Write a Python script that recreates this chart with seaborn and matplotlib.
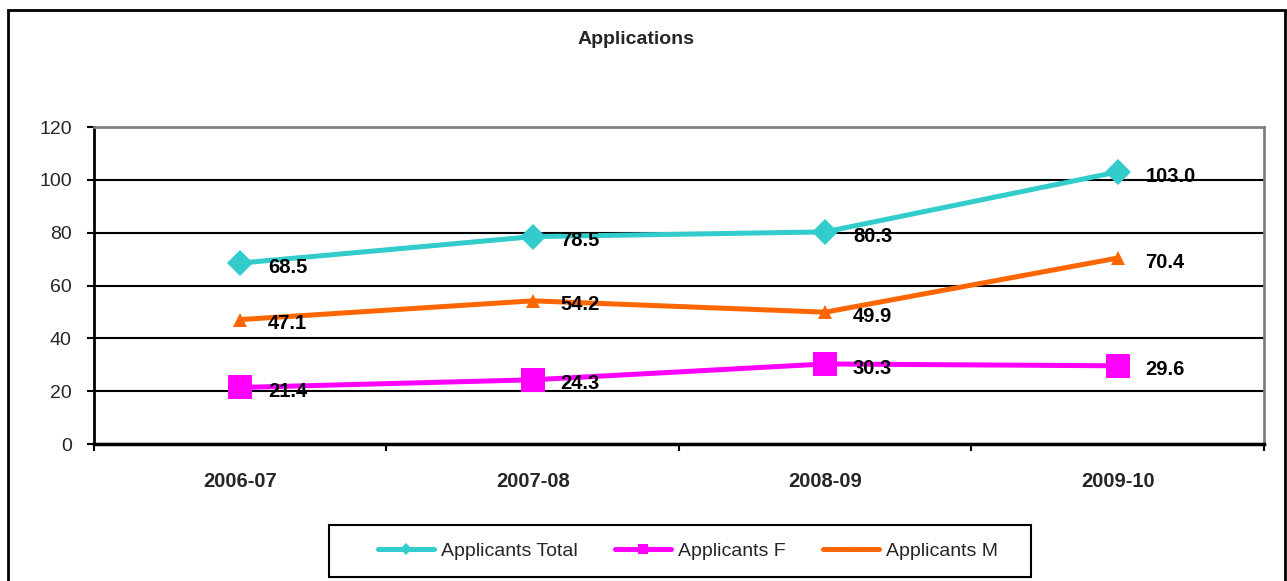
import numpy as np
import pandas as pd
import seaborn as sns
import matplotlib.pyplot as plt
from matplotlib.patches import Rectangle

years = ["2006-07", "2007-08", "2008-09", "2009-10"]
total = [68.5, 78.5, 80.3, 103.0]
female = [21.4, 24.3, 30.3, 29.6]
male = [47.1, 54.2, 49.9, 70.4]
y_ticks = [0, 20, 40, 60, 80, 100, 120]

series = ["Applicants Total", "Applicants F", "Applicants M"]
colors = {"Applicants Total": "#33CCCC", "Applicants F": "#FF00FF", "Applicants M": "#FF6600"}
markers = {"Applicants Total": "D", "Applicants F": "s", "Applicants M": "^"}
msizes = {"Applicants Total": 13, "Applicants F": 17, "Applicants M": 10}

df = pd.DataFrame({
    "year": years * 3,
    "value": total + female + male,
    "series": [s for s in series for _ in years],
})
df["pos"] = df["year"].map({y: i for i, y in enumerate(years)})

sns.set_style("white")
plt.rcParams["font.family"] = ["Liberation Sans", "DejaVu Sans"]

fig = plt.figure(figsize=(12.87, 5.81), dpi=100)
ax = fig.add_axes([0.0730, 0.2358, 0.9091, 0.5456])

for s in series:
    d = df[df["series"] == s]
    sns.lineplot(data=d, x="pos", y="value", color=colors[s], marker=markers[s],
                 markersize=msizes[s], markeredgewidth=0, linewidth=3.6,
                 label=s, ax=ax, sort=False, legend=False)
    for x, v in zip(d["pos"], d["value"]):
        ax.annotate(f"{v:.1f}", (x, v), xytext=(20, -3), textcoords="offset points",
                    ha="left", va="center", fontsize=14.5, fontweight="bold", color="black")

ax.set_xlim(-0.5, 3.5)
ax.set_ylim(0, 120)
ax.set_yticks(y_ticks)
ax.set_xticks(range(len(years)))
ax.set_xticklabels(years, fontweight="bold", fontsize=14.5)
ax.set_xticks(np.arange(-0.5, len(years), 1.0), minor=True)
ax.set_xlabel("")
ax.set_ylabel("")

ax.yaxis.grid(True, color="black", linewidth=1.5)
ax.xaxis.grid(False)
ax.set_axisbelow(True)

ax.tick_params(axis="y", left=True, length=5, width=1.5, direction="out", pad=11,
               labelsize=14, color="black")
ax.tick_params(axis="x", which="major", bottom=True, length=0, pad=20)
ax.tick_params(axis="x", which="minor", bottom=True, length=5, width=1.5,
               direction="out", color="black")

ax.spines["left"].set_color("black")
ax.spines["left"].set_linewidth(2)
ax.spines["bottom"].set_color("black")
ax.spines["bottom"].set_linewidth(2.5)
for side in ["top", "right"]:
    ax.spines[side].set_color("#808080")
    ax.spines[side].set_linewidth(2)

fig.text(0.494, 1 - 40 / 581, "Applications", ha="center", va="center",
         fontsize=14, fontweight="bold")

handles, labels = ax.get_legend_handles_labels()
leg = fig.legend(handles, labels, loc="center", bbox_to_anchor=(688 / 1287, 1 - 551 / 581),
                 ncol=3, frameon=False, markerscale=0.45,
                 handlelength=2.9, handletextpad=0.35, columnspacing=1.9,
                 prop={"size": 14})

# legend box (Excel style, wider on the right)
fig.patches.append(Rectangle((329 / 1287, 1 - 577 / 581), 702 / 1287, 52 / 581,
                             transform=fig.transFigure, fill=False,
                             edgecolor="black", linewidth=1.5))

# outer chart border
fig.patches.append(Rectangle((8 / 1287, -0.02), 1277 / 1287, 1.02 - 10 / 581,
                             transform=fig.transFigure, fill=False,
                             edgecolor="black", linewidth=2))

fig.savefig("out.png", dpi=100)
